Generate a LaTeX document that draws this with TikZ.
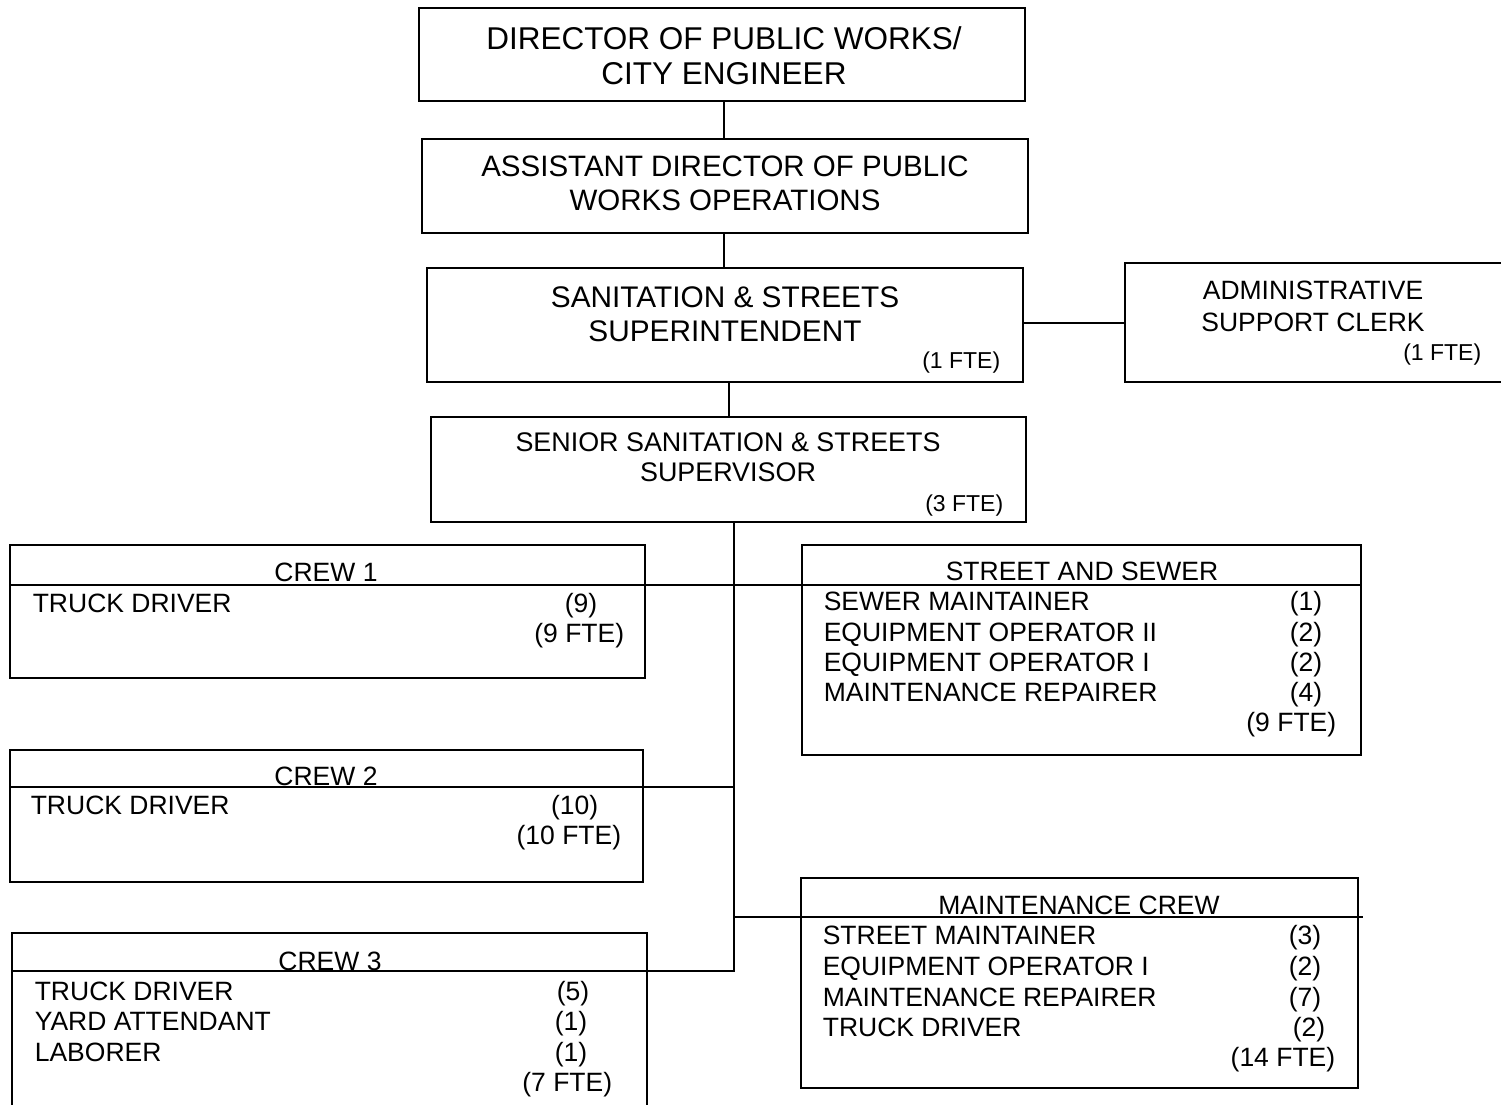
\documentclass[tikz,border=0pt]{standalone}
\usepackage{fontspec}
\setmainfont{Liberation Sans}
\newcommand{\fsz}[1]{\fontsize{#1}{#1}\selectfont}
\begin{document}
\begin{tikzpicture}[x=1pt,y=-1pt,line width=1.6pt,
  box/.style={draw,rectangle,inner sep=0pt,line width=1.6pt},
  hd/.style={inner sep=0pt,anchor=base,font=\fsz{26.5}},
  it/.style={inner sep=0pt,anchor=base west,font=\fsz{26.5}},
  ct/.style={inner sep=0pt,anchor=base east,font=\fsz{26.5}},
  fte/.style={inner sep=0pt,anchor=base east,font=\fsz{23}}]
\useasboundingbox (0,0) rectangle (1501,1104);
% boxes
\node[box,minimum width=606,minimum height=93] (dir) at (722,54.5) {};
\node[box,minimum width=606,minimum height=94] (asst) at (725,186) {};
\node[box,minimum width=596,minimum height=114] (sup) at (725,325) {};
\node[box,minimum width=385,minimum height=119] (adm) at (1317.5,322.5) {};
\node[box,minimum width=595,minimum height=105] (sen) at (728.5,469.5) {};
\node[box,minimum width=635,minimum height=133] (crew1) at (327.5,611.5) {};
\node[box,minimum width=559,minimum height=210] (ss) at (1081.5,650) {};
\node[box,minimum width=633,minimum height=132] (crew2) at (326.5,816) {};
\node[box,minimum width=557,minimum height=210] (mnt) at (1079.5,983) {};
\node[box,minimum width=635,minimum height=182] (crew3) at (329.5,1024) {};
% helper coordinates
\coordinate (xa) at (724,0);
\coordinate (xb) at (729,0);
\coordinate (tr) at (734,0);
\coordinate (ya) at (0,323);
\coordinate (y1) at (0,585);
\coordinate (y2) at (0,787);
\coordinate (y3) at (0,917);
\coordinate (y4) at (0,971);
% connectors
\draw (dir.south -| xa) -- (asst.north -| xa);
\draw (asst.south -| xa) -- (sup.north -| xa);
\draw (sup.east |- ya) -- (adm.west |- ya);
\draw (sup.south -| xb) -- (sen.north -| xb);
\draw (sen.south -| tr) |- (crew3.west |- y4);
\draw (crew1.west |- y1) -- (ss.east |- y1);
\draw (crew2.west |- y2) -- (tr |- y2);
\draw (tr |- y3) -- ([xshift=4pt]mnt.east |- y3);
% texts
\node[hd,font=\fsz{31.5}] (t1a) at (724,49) {DIRECTOR OF PUBLIC WORKS/};
\node[hd,font=\fsz{31.5}] (t1b) at (724,84) {CITY ENGINEER};
\node[hd,font=\fsz{29.5}] (t2a) at (725,176) {ASSISTANT DIRECTOR OF PUBLIC};
\node[hd,font=\fsz{29.5}] (t2b) at (725,210) {WORKS OPERATIONS};
\node[hd,font=\fsz{29.8}] (t3a) at (725,307) {SANITATION \& STREETS};
\node[hd,font=\fsz{29.8}] (t3b) at (725,341) {SUPERINTENDENT};
\node[fte] (t3c) at (1001,368.3) {(1 FTE)};
\node[hd,font=\fsz{26.5}] (tAa) at (1313,299) {ADMINISTRATIVE};
\node[hd,font=\fsz{26.5}] (tAb) at (1313,331) {SUPPORT CLERK};
\node[fte] (tAc) at (1482,360.3) {(1 FTE)};
\node[hd,font=\fsz{26.9}] (t4a) at (728,451.5) {SENIOR SANITATION \& STREETS};
\node[hd,font=\fsz{26.9}] (t4b) at (728,481.5) {SUPERVISOR};
\node[fte] (t4c) at (1004,511.3) {(3 FTE)};
% crew 1
\node[hd] (c1h) at (326,581.5) {CREW 1};
\node[it] (c1a) at (32,612.5) {TRUCK DRIVER};
\node[ct] (c1an) at (598,612.5) {(9)};
\node[ct] (c1f) at (625,642.5) {(9 FTE)};
% street and sewer
\node[hd] (ssh) at (1082,580.5) {STREET AND SEWER};
\node[it] (ssa) at (823,610.5) {SEWER MAINTAINER};
\node[ct] (ssan) at (1323,610.5) {(1)};
\node[it] (ssb) at (823,641.5) {EQUIPMENT OPERATOR II};
\node[ct] (ssbn) at (1323,641.5) {(2)};
\node[it] (ssc) at (823,671.5) {EQUIPMENT OPERATOR I};
\node[ct] (sscn) at (1323,671.5) {(2)};
\node[it] (ssd) at (823,701.5) {MAINTENANCE REPAIRER};
\node[ct] (ssdn) at (1323,701.5) {(4)};
\node[ct] (ssf) at (1337,731.5) {(9 FTE)};
% crew 2
\node[hd] (c2h) at (326,785.5) {CREW 2};
\node[it] (c2a) at (30,814.5) {TRUCK DRIVER};
\node[ct] (c2an) at (599,814.5) {(10)};
\node[ct] (c2f) at (622,844.5) {(10 FTE)};
% maintenance crew
\node[hd] (mh) at (1079,914.5) {MAINTENANCE CREW};
\node[it] (ma) at (822,944.5) {STREET MAINTAINER};
\node[ct] (man) at (1322,944.5) {(3)};
\node[it] (mb) at (822,975.5) {EQUIPMENT OPERATOR I};
\node[ct] (mbn) at (1322,975.5) {(2)};
\node[it] (mc) at (822,1006.5) {MAINTENANCE REPAIRER};
\node[ct] (mcn) at (1322,1006.5) {(7)};
\node[it] (md) at (822,1036.5) {TRUCK DRIVER};
\node[ct] (mdn) at (1326,1036.5) {(2)};
\node[ct] (mf) at (1336,1066.5) {(14 FTE)};
% crew 3
\node[hd] (c3h) at (330,970.5) {CREW 3};
\node[it] (c3a) at (34,1000.5) {TRUCK DRIVER};
\node[ct] (c3an) at (590,1000.5) {(5)};
\node[it] (c3b) at (34,1030.5) {YARD ATTENDANT};
\node[ct] (c3bn) at (588,1030.5) {(1)};
\node[it] (c3c) at (34,1061.5) {LABORER};
\node[ct] (c3cn) at (588,1061.5) {(1)};
\node[ct] (c3f) at (613,1091.5) {(7 FTE)};
\end{tikzpicture}
\end{document}
